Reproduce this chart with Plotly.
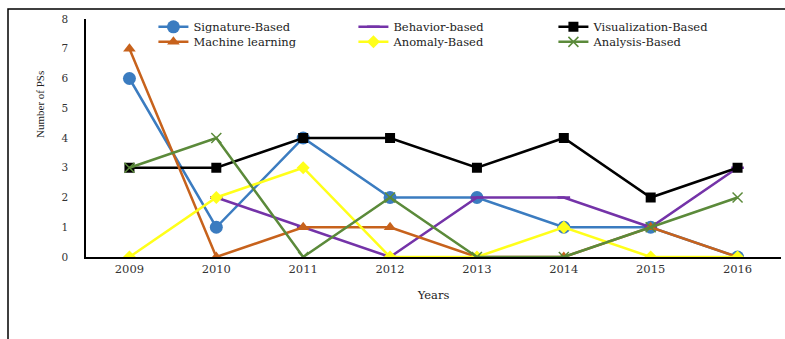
import plotly.graph_objects as go

years = ["2009", "2010", "2011", "2012", "2013", "2014", "2015", "2016"]
signature = [6, 1, 4, 2, 2, 1, 1, 0]
behavior = [None, 2, 1, 0, 2, 2, 1, 3]
visualization = [3, 3, 4, 4, 3, 4, 2, 3]
machine = [7, 0, 1, 1, 0, 0, 1, 0]
anomaly = [0, 2, 3, 0, 0, 1, 0, 0]
analysis = [3, 4, 0, 2, 0, 0, 1, 2]

FONT = "'DejaVu Serif', serif"
NARROW = "'Liberation Serif', 'Times New Roman', serif"

fig = go.Figure()

def add(name, ys, color, symbol, size, legend, mline=None):
    marker = dict(symbol=symbol, size=size, color=color)
    if mline:
        marker["line"] = dict(color=color, width=mline)
    fig.add_trace(go.Scatter(x=years, y=ys, name=name, mode="lines+markers",
                             line=dict(color=color, width=2.5),
                             marker=marker, legend=legend))

add("Signature-Based", signature, "#3B7CC0", "circle", 13, "legend")
add("Behavior-based", behavior, "#7433A8", "line-ew", 9, "legend", mline=2.5)
add("Visualization-Based", visualization, "#000000", "square", 10, "legend")
add("Machine learning", machine, "#C7621C", "triangle-up", 11, "legend2")
add("Anomaly-Based", anomaly, "#FFFF1A", "diamond", 10, "legend2")
add("Analysis-Based", analysis, "#5B8A3A", "x-thin", 10, "legend2", mline=1.5)

leg_common = dict(orientation="h", font=dict(family=FONT, size=11.5, color="#222"),
                  entrywidth=155, entrywidthmode="pixels", bgcolor="rgba(0,0,0,0)",
                  xanchor="left", yanchor="middle", tracegroupgap=0, itemwidth=30)

fig.update_layout(
    width=785, height=339,
    margin=dict(l=86, r=4, t=19, b=82),
    paper_bgcolor="white", plot_bgcolor="white",
    font=dict(family=FONT, size=11, color="#333"),
    legend=dict(x=0.097, y=0.967, **leg_common),
    legend2=dict(x=0.097, y=0.904, **leg_common),
    xaxis=dict(type="category", range=[-0.5, 7.5], showgrid=False,
               showline=True, linecolor="black", linewidth=1.5,
               ticks="", tickfont=dict(family=FONT, size=11.5, color="#333"),
               title=dict(text="Years", font=dict(family=FONT, size=11.5, color="#222"), standoff=16)),
    yaxis=dict(range=[0, 8], dtick=1, showgrid=False, zeroline=False,
               showline=True, linecolor="black", linewidth=1.5,
               ticks="", ticklabelstandoff=14,
               tickfont=dict(family=FONT, size=10.5, color="#333")),
    showlegend=True,
)

# y-axis title placed as in the reference (shifted upward)
fig.add_annotation(text="Number of PSs", xref="paper", yref="paper",
                   x=(40 - 86) / 695, y=(257 - 105) / 238, textangle=-90,
                   showarrow=False, xanchor="center", yanchor="middle",
                   font=dict(family=NARROW, size=11, color="#222"))

# outer frame (left and top edges)
x0 = (8 - 86) / 695
x1 = (785 - 86) / 695
ytop = (257 - 9) / 238
ybot = (257 - 345) / 238
fig.add_shape(type="path", xref="paper", yref="paper",
              path=f"M {x0} {ybot} L {x0} {ytop} L {x1} {ytop}",
              line=dict(color="black", width=1.5), layer="above")

fig.write_html("out.html")
